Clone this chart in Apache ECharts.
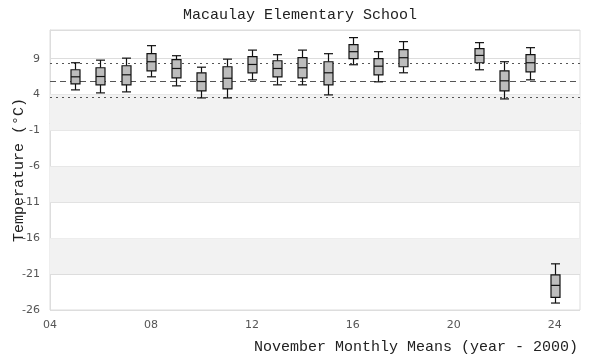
<!DOCTYPE html>
<html>
<head>
<meta charset="utf-8">
<script src="https://cdn.jsdelivr.net/npm/echarts@6/dist/echarts.min.js"></script>
<style>html,body{margin:0;padding:0;background:#fff;}#c{width:600px;height:360px;}</style>
</head>
<body>
<div id="c"></div>
<script>
const years   = [5, 6, 7, 8, 9, 10, 11, 12, 13, 14, 15, 16, 17, 18, 21, 22, 23, 24];
const mins    = [4.66, 4.24, 4.38, 6.48, 5.22, 3.54, 3.54, 6.06, 5.36, 5.36, 3.96, 8.16, 5.78, 7.04, 7.46, 3.40, 6.06, -25.03];
const q1s     = [5.50, 5.36, 5.36, 7.32, 6.34, 4.52, 4.80, 7.04, 6.48, 6.34, 5.36, 9.00, 6.76, 7.88, 8.44, 4.52, 7.18, -24.25];
const medians = [6.48, 6.52, 6.76, 8.58, 7.64, 5.82, 6.28, 8.20, 7.64, 7.74, 7.04, 9.98, 7.96, 9.14, 9.46, 5.92, 8.44, -22.57];
const q3s     = [7.46, 7.74, 8.02, 9.70, 8.86, 7.04, 7.88, 9.28, 8.72, 9.14, 8.58, 10.96, 9.00, 10.26, 10.40, 7.32, 9.56, -21.11];
const maxs    = [8.44, 8.80, 9.08, 10.82, 9.42, 7.82, 8.94, 10.20, 9.56, 10.20, 9.70, 11.94, 9.98, 11.38, 11.24, 8.58, 10.54, -19.57];
const refMean = 5.86;
const refUpper = 8.30;
const refLower = 3.68;
const shadedBands = [[-21, -16], [-11, -6], [-1, 4]];

const boxData = years.map((y, i) => [y, mins[i], q1s[i], medians[i], q3s[i], maxs[i]]);

const chart = echarts.init(document.getElementById('c'), null, {renderer: 'canvas'});
const mono = 'Liberation Mono';
const sans = 'DejaVu Sans';

chart.setOption({
  animation: false,
  backgroundColor: '#fff',
  title: [
    {
      text: 'Macaulay Elementary School',
      left: 'center', top: 3,
      textStyle: {fontFamily: mono, fontSize: 15, fontWeight: 'normal', color: '#222'}
    },
    {
      text: 'November Monthly Means (year - 2000)',
      right: 17, bottom: 0,
      textStyle: {fontFamily: mono, fontSize: 15, fontWeight: 'normal', color: '#222'}
    }
  ],
  grid: {left: 50, right: 20, top: 30, bottom: 50, outerBoundsMode: 'none', containLabel: false, show: true, borderColor: '#ddd', borderWidth: 1, backgroundColor: 'transparent'},
  xAxis: {
    type: 'value', min: 4, max: 25, interval: 4,
    axisLine: {show: true, lineStyle: {color: '#ddd'}},
    axisTick: {show: false},
    splitLine: {show: false},
    axisLabel: {
      showMaxLabel: false, margin: 10,
      fontFamily: sans, fontSize: 11, color: '#555',
      formatter: v => String(v).padStart(2, '0')
    }
  },
  yAxis: {
    type: 'value', min: -26, max: 13, interval: 5,
    name: 'Temperature (°C)',
    nameLocation: 'middle', nameGap: 23, nameRotate: 90, nameMoveOverlap: false,
    nameTextStyle: {fontFamily: mono, fontSize: 15, color: '#222'},
    axisLine: {show: true, lineStyle: {color: '#ddd'}},
    axisTick: {show: false},
    splitLine: {show: true, lineStyle: {color: '#ddd', width: 1}},
    axisLabel: {showMaxLabel: false, margin: 10, fontFamily: sans, fontSize: 11, color: '#555'}
  },
  series: [
    {
      type: 'line', data: [], silent: true,
      markArea: {
        silent: true,
        itemStyle: {color: '#f2f2f2'},
        data: shadedBands.map(b => [{yAxis: b[0]}, {yAxis: b[1]}])
      },
      markLine: {
        silent: true, symbol: 'none',
        label: {show: false},
        data: [
          {yAxis: refUpper, lineStyle: {type: [2, 4], color: '#555', width: 1.2}},
          {yAxis: refMean, lineStyle: {type: [6, 4], color: '#555', width: 1.2}},
          {yAxis: refLower, lineStyle: {type: [2, 4], color: '#555', width: 1.2}}
        ]
      }
    },
    {
      type: 'custom',
      data: boxData,
      encode: {x: 0, y: [1, 2, 3, 4, 5]},
      renderItem: function (params, api) {
        const x = api.value(0);
        const pMin = api.coord([x, api.value(1)]);
        const pQ1 = api.coord([x, api.value(2)]);
        const pMed = api.coord([x, api.value(3)]);
        const pQ3 = api.coord([x, api.value(4)]);
        const pMax = api.coord([x, api.value(5)]);
        const cx = Math.round(pMin[0]) + 0.5;
        const hw = 4.5;
        const st = {stroke: '#111', lineWidth: 1.2, fill: null};
        return {
          type: 'group',
          children: [
            {type: 'line', shape: {x1: cx, y1: pMax[1], x2: cx, y2: pQ3[1]}, style: st},
            {type: 'line', shape: {x1: cx, y1: pQ1[1], x2: cx, y2: pMin[1]}, style: st},
            {type: 'line', shape: {x1: cx - hw, y1: pMax[1], x2: cx + hw, y2: pMax[1]}, style: st},
            {type: 'line', shape: {x1: cx - hw, y1: pMin[1], x2: cx + hw, y2: pMin[1]}, style: st},
            {type: 'rect', shape: {x: cx - hw, y: pQ3[1], width: hw * 2, height: pQ1[1] - pQ3[1]}, style: {fill: '#bdbdbd', stroke: '#111', lineWidth: 1.2}},
            {type: 'line', shape: {x1: cx - hw, y1: pMed[1], x2: cx + hw, y2: pMed[1]}, style: st}
          ]
        };
      },
      z: 5
    }
  ]
});
</script>
</body>
</html>
